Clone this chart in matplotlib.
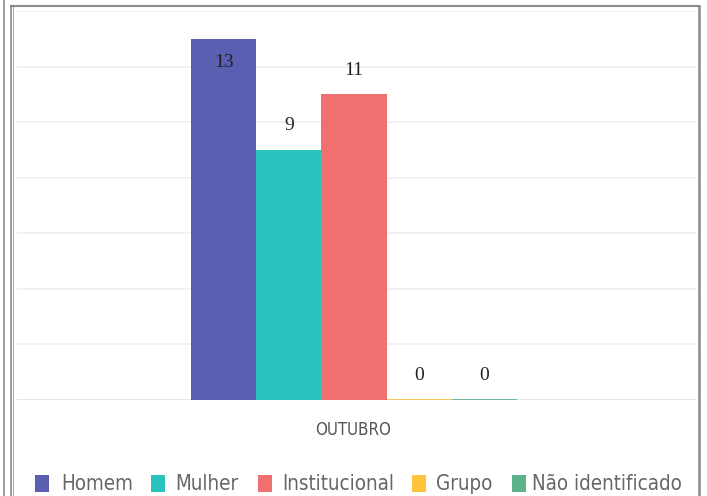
import matplotlib
matplotlib.use("Agg")
import matplotlib.pyplot as plt
from matplotlib.patches import Rectangle
from matplotlib.lines import Line2D
from matplotlib import font_manager
from matplotlib.font_manager import FontProperties

categories = ["OUTUBRO"]
series_names = ["Homem", "Mulher", "Institucional", "Grupo", "Não identificado"]
series_values = [13, 9, 11, 0, 0]
series_colors = ["#5b5fb1", "#29c2bd", "#f07070", "#fdc43c", "#5cb38b"]

# pick a condensed sans if available
cond_path = None
for f in font_manager.fontManager.ttflist:
    if f.name == "DejaVu Sans" and str(f.stretch) in ("condensed", "semi-condensed") \
            and f.style == "normal" and f.weight in (400, "normal"):
        cond_path = f.fname
        break
installed = {f.name for f in font_manager.fontManager.ttflist}
serif = "Liberation Serif" if "Liberation Serif" in installed else "DejaVu Serif"


def sans_props(size):
    if cond_path:
        return FontProperties(fname=cond_path, size=size)
    return FontProperties(family="DejaVu Sans", size=size)


W, H = 707, 496
fig = plt.figure(figsize=(W / 100, H / 100), dpi=100)
fig.patch.set_facecolor("white")
renderer = fig.canvas.get_renderer()


def px(x, y):
    return x / W, 1 - y / H


ax_left, ax_right = 17, 697
ax_top, ax_bottom = 11, 400
ax = fig.add_axes([ax_left / W, 1 - ax_bottom / H, (ax_right - ax_left) / W, (ax_bottom - ax_top) / H])

bw = 0.0958
center = -0.0045
n = len(series_names)
for i, (name, val, col) in enumerate(zip(series_names, series_values, series_colors)):
    x = center + (i - (n - 1) / 2) * bw
    ax.bar(x, val, width=bw, color=col, edgecolor=col if val == 0 else "none",
           linewidth=1.2, zorder=3)
    yl = val - 0.87 if val >= 12.5 else val + 0.87
    ax.text(x, yl, str(val), ha="center", va="center",
            fontsize=14, family=serif, color="#222222", zorder=4)

ax.set_xlim(-0.5, 0.5)
ax.set_ylim(0, 14)
ax.set_yticks(range(0, 15, 2))
ax.set_yticklabels([])
ax.tick_params(axis="y", length=0)
ax.set_xticks([])
ax.grid(axis="y", color="#efefef", linewidth=1.2, zorder=0)
for s in ax.spines.values():
    s.set_visible(False)
ax.axhline(0, color="#e4e4e4", linewidth=1.2, zorder=2)


def fitted_text(xp, yp, s, target_w, color, ha="left"):
    size = 14.0
    t = fig.text(*px(xp, yp), s, ha=ha, va="center", color=color,
                 fontproperties=sans_props(size))
    for _ in range(3):
        w = t.get_window_extent(renderer).width
        size = size * target_w / w
        t.set_fontproperties(sans_props(size))
    return t, size


fitted_text(353, 430, categories[0], 76, "#555555", ha="center")

# legend (manual layout matching reference)
sq_x = [35, 151, 258, 412, 512]
tx_x = [61, 175, 282, 436, 532]
t_ref, lsize = fitted_text(tx_x[4], 484, series_names[4], 150, "#666666")
t_ref.remove()
for name, col, sx, tx in zip(series_names, series_colors, sq_x, tx_x):
    fig.add_artist(Rectangle(px(sx, 492), 14 / W, 17 / H, transform=fig.transFigure,
                             facecolor=col, edgecolor="none"))
    fig.text(*px(tx, 484), name, ha="left", va="center", color="#666666",
             fontproperties=sans_props(lsize))


def vline(xp, y0, y1, color, lw):
    fig.add_artist(Line2D([xp / W, xp / W], [1 - y0 / H, 1 - y1 / H],
                          transform=fig.transFigure, color=color, linewidth=lw))


def hline(yp, x0, x1, color, lw):
    fig.add_artist(Line2D([x0 / W, x1 / W], [1 - yp / H, 1 - yp / H],
                          transform=fig.transFigure, color=color, linewidth=lw))


vline(3.5, 0, H, "#8a8a8a", 1.2)
vline(10.5, 6, H, "#8a8a8a", 1.2)
vline(12.5, 7, H, "#b0b0b0", 0.8)
hline(6, 10.5, 699, "#8a8a8a", 1.5)
vline(699, 6, H, "#8a8a8a", 1.8)

fig.savefig("out.png", dpi=100, facecolor="white")
